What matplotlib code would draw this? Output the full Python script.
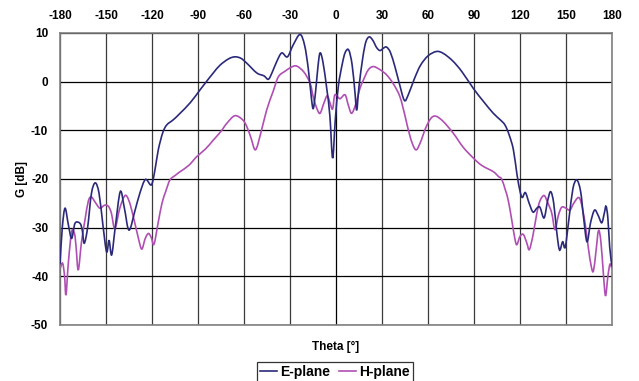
import numpy as np
import matplotlib
matplotlib.use("Agg")
import matplotlib.pyplot as plt
from matplotlib.path import Path
from matplotlib.patches import PathPatch
from matplotlib.lines import Line2D

# Measured antenna gain patterns (theta in degrees, gain in dB)
theta_e = [-180, -178.5, -176.7, -174.5, -172.4, -170.2, -167, -165.5, -164.2, -162,
           -159.5, -157, -154.5, -152, -149.6, -148, -146.3, -144, -140.7, -138,
           -135, -131.1, -128, -124.3, -120.4, -118, -115.9, -113, -110.4, -106,
           -101.7, -95, -88.7, -84.3, -80, -75.6, -70, -65.9, -62, -58.2,
           -51.7, -47, -44.1, -41.5, -38.7, -35.4, -31.7, -28, -23.5, -20.5,
           -18.1, -16, -14.8, -13.3, -11.8, -10.4, -8.5, -6, -4, -2.2,
           -0.5, 1.5, 4, 6, 8.3, 10.5, 12.3, 13.5, 15, 17.5,
           19.5, 21.7, 24, 26.5, 28.7, 31, 33, 35.5, 38.5, 41,
           44.5, 47, 51, 55, 60, 65.5, 70, 76, 82, 89.6,
           96, 102.6, 107, 110.2, 113, 115.7, 118, 120, 121.5, 123.5,
           126, 128.5, 131, 133, 135.7, 138, 140, 142, 144, 145.8,
           147.8, 149.5, 152, 154.5, 157, 159.5, 161.5, 163.7, 166, 168.6,
           171, 173.3, 175, 176.1, 177.3, 178.5, 180]
gain_e = [-37.5, -30, -26.0, -29.5, -32.2, -29.1, -29.1, -30.5, -33.2, -30,
          -23, -20.8, -23, -29.5, -35.0, -32.6, -35.6, -30, -22.6, -26,
          -30.5, -26.5, -23, -20.1, -21.2, -18, -14, -10.5, -8.9, -7.8,
          -6.5, -4.3, -1.7, 0.1, 1.8, 3.4, 4.7, 5.1, 4.8, 3.8,
          1.8, 1.2, 0.5, 2.0, 4.1, 5.9, 5.1, 7.5, 9.7, 7.5,
          2.7, -3.5, -5.5, -2, 3, 5.9, 4, -1.5, -7, -15.7,
          -8, -1, 3.5, 6, 6.5, 3.5, -2, -5.8, -1, 5,
          8.2, 9.2, 8.5, 7, 6.4, 6.9, 7.1, 6, 3, 0,
          -3.8, -2.8, 0.5, 3.3, 5.3, 6.2, 5.8, 4.3, 2.1, -1.4,
          -4, -6.5, -7.8, -8.9, -11, -14, -19, -22.5, -23.8, -22.8,
          -25, -26.8, -26.0, -25.8, -28.0, -24.5, -22.6, -25, -31, -34.6,
          -32.9, -34, -28, -22, -20.2, -22.5, -28, -32.9, -29, -26.4,
          -27.5, -29, -27, -25.6, -28, -34, -38]

theta_h = [-180, -178.3, -177, -176.1, -174.5, -172.4, -170.5, -169.5, -168.1, -166,
           -163.7, -161.5, -159.5, -157, -154, -151, -148.5, -146.5, -144.2, -141,
           -137.6, -135, -132.2, -129, -126.7, -124.5, -122.4, -120.5, -118.7, -116,
           -113.5, -111, -108.3, -105, -101.7, -96, -90.8, -85, -80, -75,
           -71.3, -66, -61, -58.2, -55.5, -52.5, -49, -45.2, -41, -37.6,
           -33, -29, -25.6, -21, -16.9, -14.8, -12.5, -10.4, -8, -5.7,
           -3.8, -2.2, -0.7, 2.5, 5.9, 8, 10.2, 13, 15.5, 17.8,
           21, 24.3, 28.5, 33, 37.5, 41.7, 45, 48.5, 52, 55,
           58.5, 62, 65.2, 70, 76.5, 83, 89.6, 95, 102.6, 106,
           108, 110.5, 112.4, 114.6, 116.5, 117.9, 120, 122.2, 124.5, 126.1,
           128.5, 131, 133, 135.7, 138, 140.7, 142.8, 145, 147.2, 150,
           152.6, 155, 158.1, 160, 162.4, 164.5, 166.5, 167.9, 169.5, 171.2,
           172.8, 174.5, 175.8, 177.3, 178.7, 180]
gain_h = [-38.5, -37.3, -40, -43.8, -37, -30.8, -31.3, -34, -38.7, -33,
          -28.4, -24.5, -23.7, -24.8, -26, -25.4, -25.6, -27, -30.2, -26,
          -23.4, -24.5, -27.7, -32, -34.4, -32.3, -31.2, -32, -33.4, -29,
          -25, -22.5, -20.2, -19.3, -18.5, -17.2, -15.4, -13.8, -12, -10.2,
          -8.6, -7, -7.8, -9.2, -11.5, -14, -10.5, -5.8, -2, 1.0,
          2.2, 3.0, 3.2, 2, -0.3, -3.2, -5.5, -6.5, -4.5, -2.9,
          -4.5, -5.6, -2.7, -3.5, -2.7, -4.8, -6.5, -4.5, -1.5, 0.3,
          2.4, 3.1, 2.5, 1.4, -0.5, -3.1, -7, -11.5, -14, -12.5,
          -9.5, -7.5, -7.1, -8.2, -10.6, -13.5, -15.7, -17.2, -18.5, -19.5,
          -20, -22.3, -24.5, -28.4, -32, -33.5, -31.8, -31.4, -33.2, -34.5,
          -31.5, -27, -24.5, -23.4, -24.8, -27, -30.4, -27.5, -25.8, -26,
          -26.4, -25, -23.8, -25, -29, -34, -38, -38.9, -35, -30.6,
          -33, -40, -44, -40, -37.5, -38.5]

x_ticks = list(range(-180, 181, 30))
y_ticks = list(range(-50, 11, 10))

E_COLOR = "#2b2a7a"
H_COLOR = "#b04fb3"


def smooth_path(x, y):
    # smoothed line through the measured points (Catmull-Rom as Bezier segments)
    pts = np.column_stack([x, y]).astype(float)
    verts = [pts[0]]
    codes = [Path.MOVETO]
    n = len(pts)
    for i in range(n - 1):
        p0 = pts[i - 1] if i > 0 else pts[i]
        p1 = pts[i]
        p2 = pts[i + 1]
        p3 = pts[i + 2] if i + 2 < n else pts[i + 1]
        verts += [p1 + (p2 - p0) / 6, p2 - (p3 - p1) / 6, p2]
        codes += [Path.CURVE4] * 3
    return Path(verts, codes)


plt.rcParams["font.family"] = ["Liberation Sans", "DejaVu Sans"]
plt.rcParams["font.weight"] = "bold"
plt.rcParams["axes.unicode_minus"] = False

fig = plt.figure(figsize=(6.39, 3.81), dpi=100)
ax = fig.add_axes([60 / 639, 1 - 325 / 381, 552 / 639, 292 / 381])

ax.set_xlim(-180, 180)
ax.set_ylim(-50, 10)

# grid: dark grey verticals, black horizontals, black value axis at theta=0
for xv in x_ticks:
    ax.axvline(xv, color="black" if xv == 0 else "#3a3a3a", lw=0.9, zorder=1)
for yv in y_ticks:
    ax.axhline(yv, color="black", lw=0.9, zorder=1)

ax.add_patch(PathPatch(smooth_path(theta_e, gain_e), fill=False,
                       edgecolor=E_COLOR, lw=1.2, zorder=3))
ax.add_patch(PathPatch(smooth_path(theta_h, gain_h), fill=False,
                       edgecolor=H_COLOR, lw=1.2, zorder=2))

ax.xaxis.tick_top()
ax.set_xticks(x_ticks)
ax.set_yticks(y_ticks)
ax.tick_params(axis="x", length=0, pad=8, labelsize=8.5)
ax.tick_params(axis="y", length=0, pad=8.5, labelsize=8.5)
for lab in ax.get_xticklabels() + ax.get_yticklabels():
    lab.set_fontweight("bold")

for sp in ax.spines.values():
    sp.set_color("#808080")
    sp.set_linewidth(1.2)

fig.text(22 / 639, 1 - 179 / 381, "G [dB]", rotation=90, ha="center", va="center",
         fontsize=8.5, fontweight="bold")
fig.text(336 / 639, 1 - 347 / 381, "Theta [°]", ha="center", va="center",
         fontsize=8.5, fontweight="bold")

handles = [Line2D([], [], color=E_COLOR, lw=1.2), Line2D([], [], color=H_COLOR, lw=1.2)]
leg = fig.legend(handles, ["E-plane", "H-plane"], loc="upper center",
                 bbox_to_anchor=(335 / 639, 1 - 361.5 / 381), ncol=2, frameon=True,
                 fancybox=False, edgecolor="black", handlelength=1.2, handletextpad=0.25,
                 columnspacing=0.6, borderpad=0.25, borderaxespad=0,
                 prop={"size": 10, "weight": "bold"})
leg.get_frame().set_linewidth(0.9)

fig.savefig("out.png", dpi=100)
